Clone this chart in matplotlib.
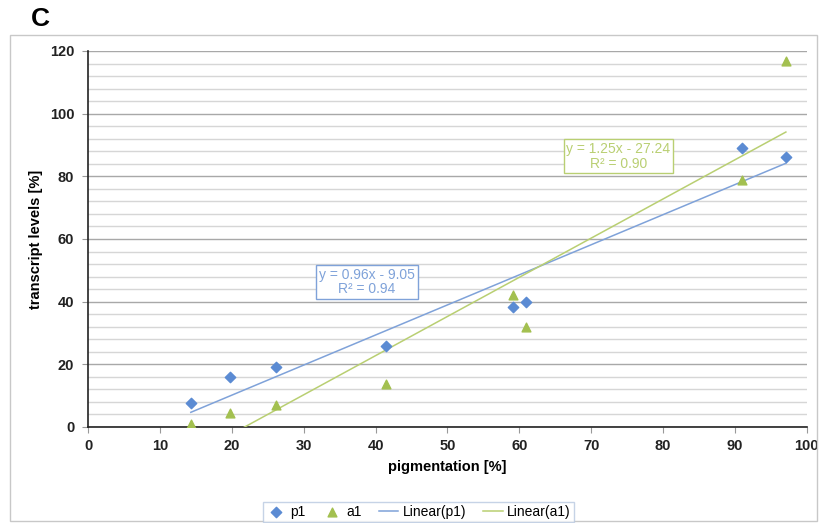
import numpy as np
import matplotlib
matplotlib.use("Agg")
import matplotlib.pyplot as plt
from matplotlib.patches import Rectangle

# pigmentation [%] and transcript levels [%]
pigment = [14.3, 19.8, 26.2, 41.5, 59.1, 60.9, 91.0, 97.1]
p1 = [7.8, 16.0, 19.3, 25.9, 38.2, 40.0, 89.0, 86.1]
a1 = [0.8, 4.5, 7.1, 13.6, 42.0, 31.8, 78.9, 116.8]

# trendline coefficients as printed on the chart
fit_p1 = (0.96, -9.05, 0.94)
fit_a1 = (1.25, -27.24, 0.90)

blue = "#5B8BD3"
green = "#A3C050"
blue_line = "#7FA2D9"
green_line = "#B9CF72"

plt.rcParams['font.family'] = ['Liberation Sans', 'DejaVu Sans']

fig = plt.figure(figsize=(8.19, 5.23), dpi=100)
ax = fig.add_axes([0.1075, 0.1836, 0.8775, 0.7189])

# outer frame of the panel
fig.patches.append(Rectangle((0.012, 0.004), 0.985, 0.929, transform=fig.transFigure,
                             fill=False, edgecolor="#c8c8c8", linewidth=1.0))
fig.text(0.038, 0.963, "C", fontsize=19, fontweight="bold", va="center")

ax.set_xlim(0, 100)
ax.set_ylim(0, 120)
ax.set_xticks(np.arange(0, 101, 10))
ax.set_yticks(np.arange(0, 121, 20))
ax.set_yticks(np.arange(0, 121, 4), minor=True)
ax.grid(True, which="major", axis="y", color="#a8a8a8", linewidth=1.0)
ax.grid(True, which="minor", axis="y", color="#d6d6d6", linewidth=1.0)
ax.set_axisbelow(True)
for s in ["top", "right"]:
    ax.spines[s].set_visible(False)
for s in ["left", "bottom"]:
    ax.spines[s].set_color("#222222")
    ax.spines[s].set_linewidth(1.2)
ax.tick_params(axis="both", which="major", length=4, color="#999999", labelsize=10.5)
ax.tick_params(axis="y", which="major", pad=6)
ax.tick_params(axis="x", which="major", pad=5)
ax.tick_params(axis="y", which="minor", length=0)
for lab in ax.get_xticklabels() + ax.get_yticklabels():
    lab.set_fontweight("bold")
    lab.set_color("#222222")

ax.set_xlabel("pigmentation [%]", fontsize=10.5, fontweight="bold")
ax.set_ylabel("transcript levels [%]", fontsize=10.5, fontweight="bold")
ax.yaxis.set_label_coords(-0.063, 0.5)
ax.xaxis.set_label_coords(0.5, -0.088)

ax.scatter(pigment, p1, marker="D", s=28, color=blue, zorder=4, label="p1")
ax.scatter(pigment, a1, marker="^", s=40, color=green, zorder=4, label="a1")

xs = np.array([min(pigment), max(pigment)])
ax.plot(xs, fit_p1[0] * xs + fit_p1[1], color=blue_line, linewidth=1.1,
        label="Linear(p1)", zorder=3)
ax.plot(xs, fit_a1[0] * xs + fit_a1[1], color=green_line, linewidth=1.1,
        label="Linear(a1)", zorder=3)

ax.text(38.8, 46.3, "y = %.2fx - %.2f\nR² = %.2f" % (fit_p1[0], -fit_p1[1], fit_p1[2]),
        color=blue_line, fontsize=10, ha="center", va="center", linespacing=1.05,
        bbox=dict(boxstyle="square,pad=0.2", facecolor="white", edgecolor=blue_line))
ax.text(73.8, 86.4, "y = %.2fx - %.2f\nR² = %.2f" % (fit_a1[0], -fit_a1[1], fit_a1[2]),
        color=green_line, fontsize=10, ha="center", va="center", linespacing=1.05,
        bbox=dict(boxstyle="square,pad=0.2", facecolor="white", edgecolor=green_line))

leg = fig.legend(loc="center", bbox_to_anchor=(0.511, 0.021), ncol=4, fontsize=10,
                 frameon=True, fancybox=False, handlelength=1.4, columnspacing=1.2,
                 handletextpad=0.35, borderpad=0.25)
leg.get_frame().set_edgecolor("#b8c8e0")
leg.get_frame().set_linewidth(1.0)

fig.savefig("out.png", dpi=100)
